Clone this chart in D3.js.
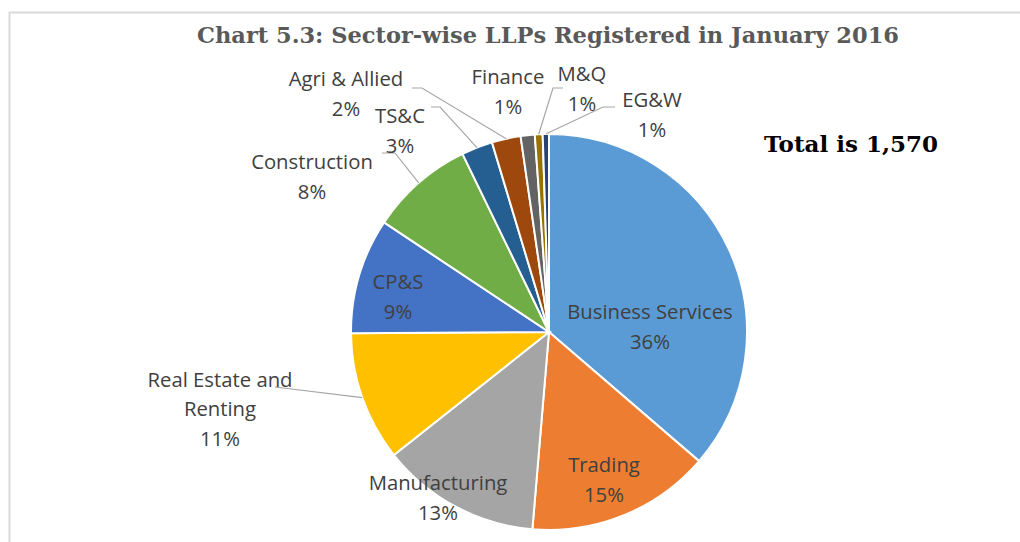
<!DOCTYPE html>
<html>
<head>
<meta charset="utf-8">
<script src="https://cdn.jsdelivr.net/npm/d3@7"></script>
<style>
  body { margin: 0; background: #fff; }
  svg { display: block; }
</style>
</head>
<body>
<svg id="chart" width="1020" height="542"></svg>
<script>
// data (LLP counts; total 1,570)
var sectors = ["Business Services", "Trading", "Manufacturing", "Real Estate and Renting", "CP&S",
               "Construction", "TS&C", "Agri & Allied", "Finance", "M&Q", "EG&W"];
var counts = [570, 236, 204, 166, 148, 133, 40, 37, 18, 10, 8];
var colors = ["#5B9BD5", "#ED7D31", "#A5A5A5", "#FFC000", "#4472C4",
              "#70AD47", "#255E91", "#9E480E", "#636363", "#997300", "#264478"];
// how each label is broken into lines
var labelLines = [["Business Services"], ["Trading"], ["Manufacturing"], ["Real Estate and", "Renting"], ["CP&S"],
                  ["Construction"], ["TS&C"], ["Agri & Allied"], ["Finance"], ["M&Q"], ["EG&W"]];

var title = "Chart 5.3: Sector-wise LLPs Registered in January 2016";
var totalText = "Total is 1,570";

// layout
var cx = 549, cy = 332, r = 198;
// label block centres relative to pie centre, and whether a leader line is drawn (Excel best fit)
var labelPos = {
  "Business Services": [101, -5, false],
  "Trading": [55, 148, false],
  "Manufacturing": [-111, 166, false],
  "Real Estate and Renting": [-329, 77, true],
  "CP&S": [-151, -35, false],
  "Construction": [-237, -155, true],
  "TS&C": [-149, -201, true],
  "Agri & Allied": [-203, -238, true],
  "Finance": [-41, -240, false],
  "M&Q": [33, -243, true],
  "EG&W": [103, -217, true]
};
// where the leader leaves the label (relative to label centre)
var leaderStart = {
  "Real Estate and Renting": [[55, -22]],
  "Construction": [[70, -24], [83, -24]],
  "TS&C": [[31, -24], [40, -24]],
  "Agri & Allied": [[66, -6], [76, -6]],
  "M&Q": [[-19, -1], [-29, -1]],
  "EG&W": [[-37, -8], [-49, -8]]
};

var svg = d3.select("#chart");
var font = "'Open Sans', 'DejaVu Sans', sans-serif";

// frame
svg.append("path")
  .attr("d", "M9.5,542 L9.5,12.5 L1020,12.5")
  .attr("fill", "none")
  .attr("stroke", "#D9D9D9")
  .attr("stroke-width", 2);

svg.append("text")
  .attr("x", 548).attr("y", 43)
  .attr("text-anchor", "middle")
  .attr("font-family", "'DejaVu Serif', serif")
  .attr("font-weight", "bold")
  .attr("font-size", 22.5)
  .attr("fill", "#595959")
  .text(title);

svg.append("text")
  .attr("x", 851).attr("y", 152)
  .attr("text-anchor", "middle")
  .attr("font-family", "'DejaVu Serif', serif")
  .attr("font-weight", "bold")
  .attr("font-size", 23)
  .attr("fill", "#000")
  .text(totalText);

var data = sectors.map(function(s, i){ return {name: s, value: counts[i], color: colors[i], lines: labelLines[i]}; });
var total = d3.sum(counts);

var pie = d3.pie().sort(null).value(function(d){ return d.value; });
var arc = d3.arc().innerRadius(0).outerRadius(r);
var arcs = pie(data);

var g = svg.append("g").attr("transform", "translate(" + cx + "," + cy + ")");

g.selectAll("path.slice")
  .data(arcs)
  .enter().append("path")
  .attr("class", "slice")
  .attr("d", arc)
  .attr("fill", function(d){ return d.data.color; })
  .attr("stroke", "#fff")
  .attr("stroke-width", 2);

// leader lines
var fmt = d3.format(".0%");
arcs.forEach(function(d){
  var p = labelPos[d.data.name];
  if(!p[2]) return;
  var mid = (d.startAngle + d.endAngle) / 2;
  var end = [r * Math.sin(mid), -r * Math.cos(mid)];
  var pts = leaderStart[d.data.name].map(function(q){ return [p[0] + q[0], p[1] + q[1]]; });
  pts.push(end);
  g.append("path")
    .attr("d", d3.line()(pts))
    .attr("fill", "none")
    .attr("stroke", "#A6A6A6")
    .attr("stroke-width", 1.2);
});

// labels
arcs.forEach(function(d){
  var p = labelPos[d.data.name];
  var lines = d.data.lines.concat([fmt(d.data.value / total)]);
  var lh = 29.5;
  var t = g.append("text")
    .attr("text-anchor", "middle")
    .attr("font-family", font)
    .attr("font-size", 20.3)
    .attr("fill", "#404040");
  lines.forEach(function(l, i){
    t.append("tspan")
      .attr("x", p[0])
      .attr("y", p[1] + (i - (lines.length - 1) / 2) * lh + 7)
      .text(l);
  });
});
</script>
</body>
</html>
